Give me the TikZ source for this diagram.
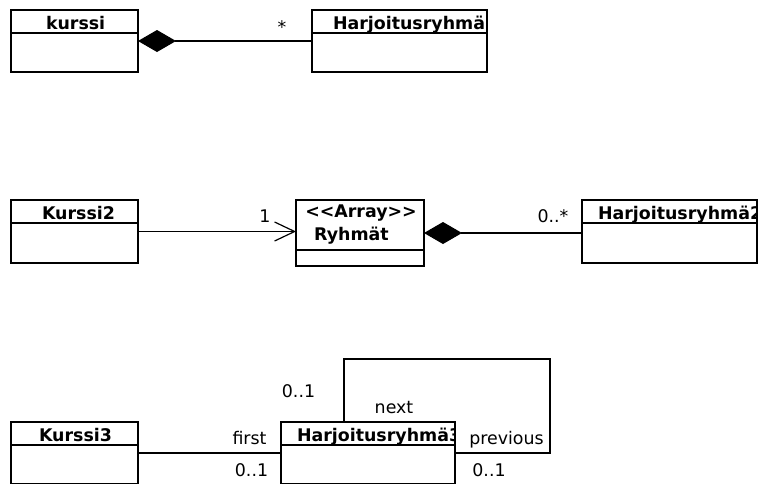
\documentclass[tikz,border=0pt]{standalone}
\usepackage{fontspec}
\setmainfont{DejaVu Sans}
\usetikzlibrary{arrows.meta}

\begin{document}
\begin{tikzpicture}[x=1pt,y=-1pt,
  font=\fontsize{17.4pt}{21pt}\selectfont,
  conn/.style={line width=1.2pt},
  klass/.style={draw,line width=1.2pt,anchor=north west,inner sep=0pt,outer sep=0pt},
  title/.style 2 args={path picture={
    \node[draw=none,minimum width=0pt,minimum height=0pt,anchor=base west,inner sep=0pt,
      font=\fontsize{17.4pt}{21pt}\selectfont\bfseries]
      at ([xshift=#1,yshift=-19pt]path picture bounding box.north west) {#2};
    \draw[conn] ([yshift=-23pt]path picture bounding box.north west)
      -- ([yshift=-23pt]path picture bounding box.north east);}},
  comp/.style={conn,{Diamond[length=38pt,width=22pt]}-},
  lbl/.style={anchor=base,inner sep=0pt},
  bold/.style={lbl,font=\fontsize{17.4pt}{21pt}\selectfont\bfseries}]
\useasboundingbox (0,0) rectangle (758,483);

\node[klass,minimum width=127pt,minimum height=62pt,title={35pt}{kurssi}] (kurssi) at (11,10) {};
\node[klass,minimum width=175pt,minimum height=62pt,title={21pt}{Harjoitusryhmä}] (harj) at (312,10) {};
\draw[comp] (kurssi.east) -- (harj.west);
\node[lbl] (many) at (282,33) {*};

\node[klass,minimum width=127pt,minimum height=63pt,title={31pt}{Kurssi2}] (kurssi2) at (11,200) {};
\node[klass,minimum width=128pt,minimum height=66pt] (ryhmat) at (296,200) {};
\draw[conn] ([yshift=-50pt]ryhmat.north west) -- ([yshift=-50pt]ryhmat.north east);
\node[bold] (stereo) at (361,217) {<\kern0pt<Array>\kern0pt>};
\node[bold] (ryhmatname) at (351.5,240) {Ryhmät};
\node[klass,minimum width=175pt,minimum height=63pt,title={16pt}{Harjoitusryhmä2}] (harj2) at (582,200) {};
\draw[comp,-{Straight Barb[length=20pt,width=19pt]}] (kurssi2.east) -- (kurssi2.east -| ryhmat.west);
\draw[comp] (ryhmat.east) -- (ryhmat.east -| harj2.west);
\node[lbl] (one) at (265,222) {1};
\node[lbl] (zeromany) at (553,222) {0..*};

\node[klass,minimum width=127pt,minimum height=62pt,title={28pt}{Kurssi3}] (kurssi3) at (11,422) {};
\node[klass,minimum width=174pt,minimum height=62pt,title={16pt}{Harjoitusryhmä3}] (harj3) at (281,422) {};
\draw[conn] (kurssi3.east) -- (harj3.west);
\coordinate (turn) at (550,359);
\draw[conn] ([xshift=63pt]harj3.north west) |- (turn) |- (harj3.east);
\node[lbl] (first) at (249.5,444) {first};
\node[lbl] (firstmult) at (251.5,476) {0..1};
\node[lbl] (nextmult) at (298.5,397) {0..1};
\node[lbl] (next) at (394,413) {next};
\node[lbl] (previous) at (506.5,444) {previous};
\node[lbl] (prevmult) at (489,476) {0..1};
\end{tikzpicture}
\end{document}
